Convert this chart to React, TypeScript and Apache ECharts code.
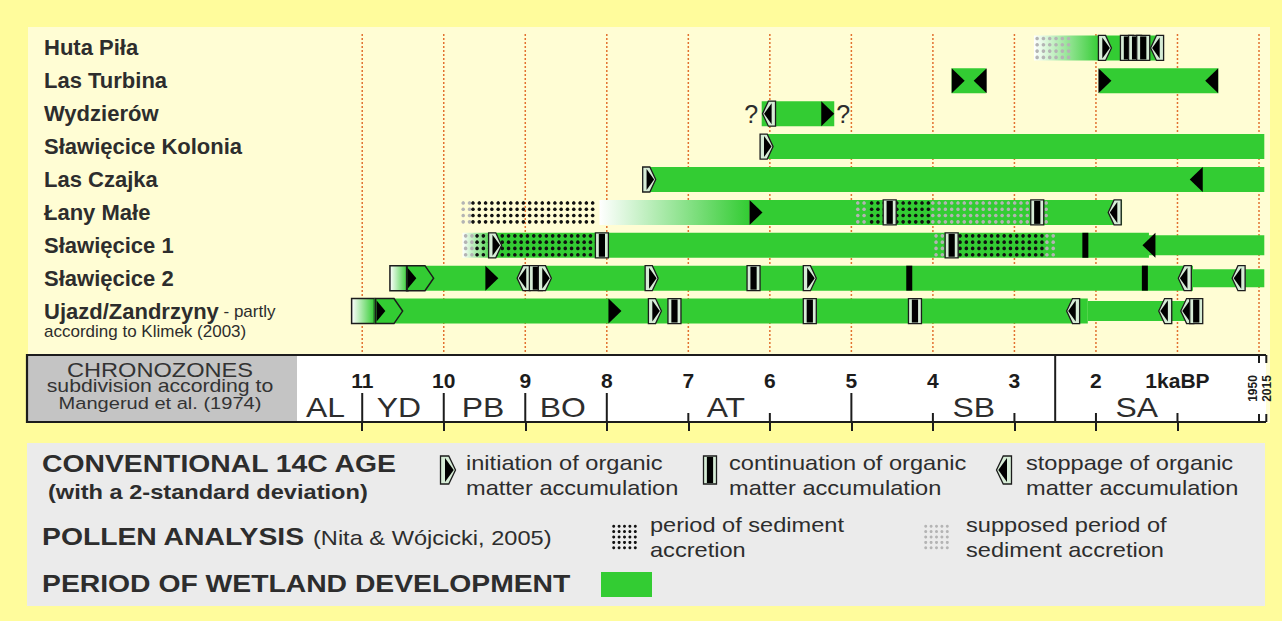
import React, { useEffect, useRef } from 'react';
import * as echarts from 'echarts';

const FONT = "'Liberation Sans', Arial, Helvetica, sans-serif";
const SX = 1.18;
const GREEN = '#33cc33';
const INK = '#1c1c1c';
const TXT = '#2d2d2d';
const PALE_MARK = '#d6ecd6';

// ---------- data ----------
const sites = [
  'Huta Piła',
  'Las Turbina',
  'Wydzierów',
  'Sławięcice Kolonia',
  'Las Czajka',
  'Łany Małe',
  'Sławięcice 1',
  'Sławięcice 2',
  'Ujazd/Zandrzyny',
];

const AXIS_MIN = -0.065; // AD 2015
const AXIS_MAX = 11.8;

const kaTicks = [11, 10, 9, 8, 7, 6, 5, 4, 3, 2, 1];
const guideTicks = [11, 10, 9, 8, 7, 6, 5, 4, 3, 2, 1, 0];

const zoneNames = ['AL', 'YD', 'PB', 'BO', 'AT', 'SB', 'SA'];
const zoneCenters = [11.45, 10.55, 9.52, 8.54, 6.54, 3.5, 1.5];
const zoneBounds = [11, 10, 9, 8, 5];
const zoneMajorBounds = [2.5];
const zoneMinorTicks = [7, 6, 4, 3, 2, 1];
const presentLabels = ['1950', '2015'];
const presentValues = [0, -0.065];

// [site, from ka BP, to ka BP, relative thickness]
const wetlandBars: number[][] = [
  [0, 1.95, 1.18, 1],
  [1, 3.77, 3.35, 1],
  [1, 1.96, 0.5, 1],
  [2, 6.1, 5.21, 1],
  [3, 6.12, -0.065, 1],
  [4, 7.56, -0.065, 1],
  [5, 6.25, 1.68, 1],
  [6, 9.37, 1.35, 1],
  [6, 1.35, -0.065, 0.8],
  [7, 10.44, 0.81, 1],
  [7, 0.81, -0.065, 0.72],
  [8, 10.85, 2.1, 1],
  [8, 2.1, 0.72, 0.8],
];

// [site, from, to, boxed]  (white -> green transition)
const fadeSpans: number[][] = [
  [0, 2.76, 1.95, 0],
  [5, 8.09, 6.25, 0],
  [6, 9.77, 9.37, 0],
  [7, 10.66, 10.44, 1],
  [8, 11.13, 10.85, 1],
];

// [site, from, to, certain (1) / supposed (0)]
const pollenDots: number[][] = [
  [0, 2.76, 2.28, 0],
  [5, 9.8, 9.68, 0],
  [5, 9.68, 8.12, 1],
  [5, 4.96, 4.79, 0],
  [5, 4.79, 4.04, 1],
  [5, 4.04, 2.58, 0],
  [6, 9.77, 9.63, 0],
  [6, 9.63, 8.1, 1],
  [6, 4.0, 3.86, 0],
  [6, 3.86, 2.64, 1],
  [6, 2.64, 2.5, 0],
];

// 14C dates: site, position ka BP, type (i = initiation, c = continuation, s = stoppage, v = initiation chevron), outlined
const c14Site = [0, 0, 0, 0, 0, 1, 1, 1, 1, 2, 2, 3, 4, 4, 5, 5, 5, 5, 6, 6, 6, 6, 6, 7, 7, 7, 7, 7, 7, 7, 7, 7, 7, 7, 7, 8, 8, 8, 8, 8, 8, 8, 8, 8, 8];
const c14Age = [1.89, 1.62, 1.52, 1.42, 1.25, 3.69, 3.42, 1.89, 0.58, 6.01, 5.29, 6.04, 7.48, 0.77, 6.17, 4.53, 2.72, 1.77, 9.37, 8.06, 3.77, 2.13, 1.35, 10.29, 9.41, 9.02, 8.87, 8.76, 7.45, 6.2, 5.51, 4.29, 1.4, 0.91, 0.25, 10.67, 7.9, 7.41, 7.17, 5.51, 4.22, 2.28, 1.15, 0.88, 0.77];
const c14Type = ['i', 'c', 'c', 'c', 's', 'i', 's', 'i', 's', 's', 'i', 'i', 'i', 's', 'i', 'c', 'c', 's', 'i', 'c', 'c', 'c', 's', 'v', 'i', 's', 'c', 'i', 'i', 'c', 'i', 'c', 'c', 's', 's', 'v', 'i', 'i', 'c', 'c', 'c', 's', 's', 's', 'c'];
const c14Outlined = [1, 1, 1, 1, 1, 0, 0, 0, 0, 1, 0, 1, 1, 0, 0, 1, 1, 1, 1, 1, 1, 0, 0, 0, 0, 1, 1, 1, 1, 1, 1, 0, 0, 1, 1, 0, 0, 1, 1, 1, 1, 1, 1, 1, 1];

// [site, position]  uncertain ends
const questionMarks: number[][] = [
  [2, 6.23],
  [2, 5.1],
];

// ---------- drawing helpers ----------
function markerEls(cx: number, cy: number, w: number, h: number, type: string, outlined: number): any[] {
  const t = cy - h / 2;
  const b = cy + h / 2;
  const l = cx - w / 2;
  const r = cx + w / 2;
  const els: any[] = [];
  if (type === 'c') {
    if (outlined) {
      els.push({ type: 'rect', shape: { x: l, y: t, width: w, height: h }, style: { fill: PALE_MARK, stroke: INK, lineWidth: 1.3 } });
      els.push({ type: 'rect', shape: { x: cx - w * 0.24, y: t + 1, width: w * 0.48, height: h - 2 }, style: { fill: '#000' } });
    } else {
      els.push({ type: 'rect', shape: { x: cx - 3, y: t, width: 6, height: h }, style: { fill: '#000' } });
    }
  } else if (type === 'i' || type === 's') {
    const dir = type === 'i' ? 1 : -1;
    const base = cx - (dir * w) / 2;
    const tip = cx + (dir * w) / 2;
    if (outlined) {
      const mid = cx + dir * w * 0.05;
      els.push({ type: 'polygon', shape: { points: [[base, t], [mid, t], [tip, cy], [mid, b], [base, b]] }, style: { fill: PALE_MARK, stroke: INK, lineWidth: 1.3 } });
      els.push({ type: 'polygon', shape: { points: [[base + dir * w * 0.3, t + 2], [tip - dir * w * 0.12, cy], [base + dir * w * 0.3, b - 2]] }, style: { fill: '#000' } });
    } else {
      els.push({ type: 'polygon', shape: { points: [[base, t], [tip, cy], [base, b]] }, style: { fill: '#000' } });
    }
  } else if (type === 'v') {
    const mid = r - w * 0.32;
    els.push({ type: 'polygon', shape: { points: [[l, t], [mid, t], [r, cy], [mid, b], [l, b]] }, style: { fill: 'none', stroke: INK, lineWidth: 1.5 } });
    els.push({ type: 'polygon', shape: { points: [[l + 1, t + 2], [l + w * 0.36, cy], [l + 1, b - 2]] }, style: { fill: '#000' } });
  }
  return els;
}

function dotGrid(x0: number, x1: number, yc: number, rows: number, step: number, certain: number, r: number): any[] {
  const out: any[] = [];
  const fill = certain ? '#111' : '#b4b4b4';
  for (let x = x0 + step / 2; x <= x1 + 0.5; x += step) {
    for (let j = 0; j < rows; j++) {
      const y = yc + (j - (rows - 1) / 2) * step;
      out.push({ type: 'circle', shape: { cx: x, cy: y, r }, style: { fill } });
    }
  }
  return out;
}

function text(str: string, x: number, y: number, size: number, bold: boolean, align = 'left', color = TXT): any {
  return {
    type: 'text',
    x,
    y,
    scaleX: SX,
    style: {
      text: str,
      font: `${bold ? 'bold ' : ''}${size}px ${FONT}`,
      fill: color,
      textAlign: align,
      textVerticalAlign: 'middle',
      align,
      verticalAlign: 'middle',
    },
  };
}

const BAR_FRAC = 0.76;

function bandOf(api: any) {
  return api.size([0, 1])[1];
}

const option: any = {
  animation: false,
  backgroundColor: '#fffc9c',
  grid: [
    { left: 297, right: 17.7, top: 31.5, height: 296 },
    { left: 297, right: 17.7, top: 355, height: 67 },
  ],
  xAxis: [
    { gridIndex: 0, type: 'value', inverse: true, min: AXIS_MIN, max: AXIS_MAX, show: false },
    {
      gridIndex: 1,
      type: 'value',
      inverse: true,
      min: AXIS_MIN,
      max: AXIS_MAX,
      position: 'top',
      axisLine: { show: false },
      splitLine: { show: false },
      axisTick: { show: true, inside: true, length: 9, customValues: kaTicks, lineStyle: { color: INK, width: 2 } },
      axisLabel: {
        show: true,
        inside: true,
        margin: 25,
        customValues: kaTicks,
        verticalAlign: 'middle',
        fontFamily: FONT,
        fontSize: 21,
        fontWeight: 'bold',
        color: INK,
        formatter: (v: number) => (v === 1 ? '1kaBP' : String(v)),
      },
    },
  ],
  yAxis: [
    {
      gridIndex: 0,
      type: 'category',
      inverse: true,
      data: sites,
      axisLine: { show: false },
      axisTick: { show: false },
      splitLine: { show: false },
      axisLabel: {
        interval: 0,
        align: 'left',
        margin: 253,
        fontFamily: FONT,
        fontSize: 22,
        fontWeight: 'bold',
        color: TXT,
        lineHeight: 18,
        formatter: (v: string) =>
          v === 'Ujazd/Zandrzyny' ? `\n{b|${v}}{s| - partly}\n{t|according to Klimek (2003)}` : v,
        rich: {
          b: { fontFamily: FONT, fontSize: 22, fontWeight: 'bold', color: TXT, lineHeight: 22 },
          s: { fontFamily: FONT, fontSize: 17, fontWeight: 'normal', color: TXT, lineHeight: 22 },
          t: { fontFamily: FONT, fontSize: 17, fontWeight: 'normal', color: TXT, lineHeight: 18 },
        },
      },
    },
    { gridIndex: 1, type: 'value', min: 0, max: 1, show: false },
  ],
  graphic: [
    // pale inner panel
    { type: 'rect', z: -10, shape: { x: 28, y: 27, width: 1242, height: 396 }, style: { fill: '#fffdd4' } },
    // chronozones box
    { type: 'rect', z: -5, shape: { x: 27, y: 355, width: 1239, height: 67 }, style: { fill: '#ffffff' } },
    { type: 'rect', z: -4, shape: { x: 28, y: 356, width: 269, height: 65 }, style: { fill: '#c4c4c4' } },
    { type: 'polyline', z: 5, shape: { points: [[1266, 355], [27, 355], [27, 422], [1266, 422]] }, style: { stroke: INK, lineWidth: 2.2, fill: 'none' } },
    text('CHRONOZONES', 160, 370, 20, false, 'center', '#333'),
    text('subdivision according to', 160, 386, 18, false, 'center', '#333'),
    text('Mangerud et al. (1974)', 160, 403, 17, false, 'center', '#333'),
    // legend box
    { type: 'rect', z: -5, shape: { x: 27, y: 443, width: 1238, height: 163 }, style: { fill: '#ebebeb' } },
    text('CONVENTIONAL 14C AGE', 42, 464, 24, true),
    text('(with a 2-standard deviation)', 48, 492, 20, true),
    { type: 'group', children: markerEls(448, 470, 15, 28, 'i', 1) },
    text('initiation of organic', 466, 463, 20, false),
    text('matter accumulation', 466, 488, 20, false),
    { type: 'group', children: markerEls(710, 470, 13, 28, 'c', 1) },
    text('continuation of organic', 729, 463, 20, false),
    text('matter accumulation', 729, 488, 20, false),
    { type: 'group', children: markerEls(1004, 470, 15, 28, 's', 1) },
    text('stoppage of organic', 1026, 463, 20, false),
    text('matter accumulation', 1026, 488, 20, false),
    text('POLLEN ANALYSIS', 42, 537, 24, true),
    text('(Nita & Wójcicki, 2005)', 313, 538, 20, false),
    { type: 'group', children: dotGrid(611, 635, 537, 5, 5.4, 1, 1.5) },
    text('period of sediment', 650, 525, 20, false),
    text('accretion', 650, 550, 20, false),
    { type: 'group', children: dotGrid(923, 947, 537, 5, 5.4, 0, 1.5) },
    text('supposed period of', 966, 525, 20, false),
    text('sediment accretion', 966, 550, 20, false),
    text('PERIOD OF WETLAND DEVELOPMENT', 42, 584, 24, true),
    { type: 'rect', shape: { x: 601, y: 572, width: 51, height: 25 }, style: { fill: GREEN } },
  ],
  series: [
    {
      name: 'ka guides',
      type: 'custom',
      xAxisIndex: 0,
      yAxisIndex: 0,
      z: 1,
      data: guideTicks.map((t) => [t, 0]),
      encode: { x: 0, y: 1 },
      renderItem: (params: any, api: any) => {
        const x = api.coord([api.value(0), 0])[0];
        return {
          type: 'line',
          shape: { x1: x, y1: 34, x2: x, y2: 354 },
          style: { stroke: '#e2712f', lineWidth: 1.5, lineDash: [2, 2] },
        };
      },
    },
    {
      name: 'transition',
      type: 'custom',
      xAxisIndex: 0,
      yAxisIndex: 0,
      z: 2,
      data: fadeSpans.map((d) => [d[1], d[0], d[2], d[3]]),
      encode: { x: [0, 2], y: 1 },
      renderItem: (params: any, api: any) => {
        const site = api.value(1);
        const p1 = api.coord([api.value(0), site]);
        const p2 = api.coord([api.value(2), site]);
        const h = bandOf(api) * BAR_FRAC;
        const boxed = api.value(3);
        return {
          type: 'rect',
          shape: { x: p1[0], y: p1[1] - h / 2, width: p2[0] - p1[0], height: h },
          style: {
            fill: new echarts.graphic.LinearGradient(0, 0, 1, 0, [
              { offset: 0, color: '#ffffff' },
              { offset: 1, color: GREEN },
            ]),
            stroke: boxed ? INK : 'none',
            lineWidth: boxed ? 1.5 : 0,
          },
        };
      },
    },
    {
      name: 'wetland development',
      type: 'custom',
      xAxisIndex: 0,
      yAxisIndex: 0,
      z: 3,
      data: wetlandBars.map((d) => [d[1], d[0], d[2], d[3]]),
      encode: { x: [0, 2], y: 1 },
      renderItem: (params: any, api: any) => {
        const site = api.value(1);
        const p1 = api.coord([api.value(0), site]);
        const p2 = api.coord([api.value(2), site]);
        const h = bandOf(api) * BAR_FRAC * api.value(3);
        return {
          type: 'rect',
          shape: { x: p1[0], y: p1[1] - h / 2, width: p2[0] - p1[0], height: h },
          style: { fill: GREEN },
        };
      },
    },
    {
      name: 'pollen analysis',
      type: 'custom',
      xAxisIndex: 0,
      yAxisIndex: 0,
      z: 4,
      data: pollenDots.map((d) => [d[1], d[0], d[2], d[3]]),
      encode: { x: [0, 2], y: 1 },
      renderItem: (params: any, api: any) => {
        const site = api.value(1);
        const p1 = api.coord([api.value(0), site]);
        const p2 = api.coord([api.value(2), site]);
        return { type: 'group', children: dotGrid(p1[0], p2[0], p1[1], 4, 6.3, api.value(3), 1.8) };
      },
    },
    {
      name: '14C age',
      type: 'custom',
      xAxisIndex: 0,
      yAxisIndex: 0,
      z: 5,
      data: c14Age.map((a, i) => [a, c14Site[i], i]),
      encode: { x: 0, y: 1 },
      renderItem: (params: any, api: any) => {
        const i = api.value(2);
        const p = api.coord([api.value(0), api.value(1)]);
        const h = bandOf(api) * BAR_FRAC;
        const type = c14Type[i];
        const w = type === 'v' ? 27 : 13;
        return { type: 'group', children: markerEls(p[0], p[1], w, h, type, c14Outlined[i]) };
      },
    },
    {
      name: 'uncertain',
      type: 'custom',
      xAxisIndex: 0,
      yAxisIndex: 0,
      z: 5,
      data: questionMarks.map((d) => [d[1], d[0]]),
      encode: { x: 0, y: 1 },
      renderItem: (params: any, api: any) => {
        const p = api.coord([api.value(0), api.value(1)]);
        return {
          type: 'text',
          x: p[0],
          y: p[1],
          style: { text: '?', font: `25px ${FONT}`, fill: TXT, textAlign: 'center', textVerticalAlign: 'middle', align: 'center', verticalAlign: 'middle' },
        };
      },
    },
    {
      name: 'chronozones',
      type: 'custom',
      xAxisIndex: 1,
      yAxisIndex: 1,
      z: 6,
      data: [
        ...zoneBounds.map((t) => [t, 0, 0]),
        ...zoneMajorBounds.map((t) => [t, 1, 0]),
        ...zoneMinorTicks.map((t) => [t, 2, 0]),
        ...zoneCenters.map((t, i) => [t, 3, i]),
        ...presentValues.map((t, i) => [t, 4, i]),
      ],
      encode: { x: 0, y: 1 },
      renderItem: (params: any, api: any) => {
        const t = api.value(0);
        const kind = api.value(1);
        const idx = api.value(2);
        const x = api.coord([t, 0])[0];
        const yb = api.coord([t, 0])[1];
        const yt = api.coord([t, 1])[1];
        const ls = { stroke: INK, lineWidth: 2 };
        if (kind === 0) return { type: 'line', shape: { x1: x, y1: yb, x2: x, y2: yb - 29 }, style: ls };
        if (kind === 1) return { type: 'line', shape: { x1: x, y1: yb, x2: x, y2: yt }, style: ls };
        if (kind === 2) return { type: 'line', shape: { x1: x, y1: yb, x2: x, y2: yb - 9 }, style: ls };
        if (kind === 3)
          return {
            type: 'text',
            x,
            y: yb - 15,
            scaleX: SX,
            style: { text: zoneNames[idx], font: `27px ${FONT}`, fill: TXT, textAlign: 'center', textVerticalAlign: 'middle', align: 'center', verticalAlign: 'middle' },
          };
        const sx = idx === 0 ? x : x + 2;
        return {
          type: 'group',
          children: [
            { type: 'line', shape: { x1: sx, y1: yt, x2: sx, y2: yt + 8 }, style: ls },
            { type: 'line', shape: { x1: sx, y1: yb, x2: sx, y2: yb - 8 }, style: ls },
            {
              type: 'text',
              x: idx === 0 ? x - 6 : x + 3,
              y: (yt + yb) / 2,
              rotation: Math.PI / 2,
              style: { text: presentLabels[idx], font: `bold 12px ${FONT}`, fill: INK, textAlign: 'center', textVerticalAlign: 'middle', align: 'center', verticalAlign: 'middle' },
            },
          ],
        };
      },
    },
  ],
};

export default function App() {
  const ref = useRef<HTMLDivElement>(null);
  useEffect(() => {
    if (!ref.current) return;
    const chart = echarts.init(ref.current, null, { renderer: 'svg' });
    chart.setOption(option);
    return () => chart.dispose();
  }, []);
  return <div ref={ref} style={{ position: 'fixed', left: 0, top: 0, width: 1282, height: 621 }} />;
}
